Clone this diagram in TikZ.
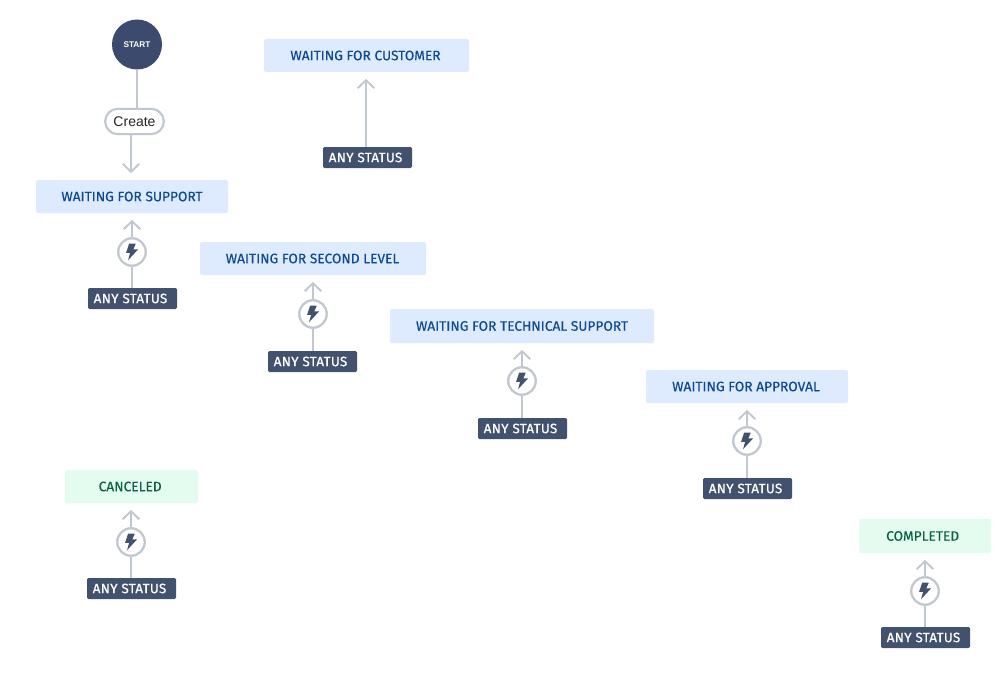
\documentclass[tikz,border=0pt]{standalone}
\usepackage{fontspec}
\setmainfont{Fira Sans}
\newfontfamily\arialfont{Liberation Sans}
\newfontfamily\statusfont[FakeBold=0.25]{Fira Sans}
\newfontfamily\anyfont[FakeBold=0.7,LetterSpace=2]{Fira Sans}
\usetikzlibrary{arrows.meta}
\definecolor{navy}{HTML}{42526E}
\definecolor{startnavy}{HTML}{3B4A6D}
\definecolor{linegrey}{HTML}{C1C7D0}
\definecolor{bluebg}{HTML}{DEEBFF}
\definecolor{bluetx}{HTML}{0E4A94}
\definecolor{greenbg}{HTML}{E3FCEF}
\definecolor{greentx}{HTML}{0B6145}
\tikzset{
  x=0.75pt,y=-0.75pt,
  statusbox/.style={rectangle,rounded corners=1.2pt,inner sep=0pt,font=\statusfont\fontsize{10.3pt}{12pt}\selectfont},
  bluebox/.style={statusbox,fill=bluebg,text=bluetx},
  greenbox/.style={statusbox,fill=greenbg,text=greentx},
  anybox/.style={rectangle,rounded corners=1pt,fill=navy,text=white,inner sep=0pt,minimum width=66.75pt,minimum height=15.75pt,font=\anyfont\fontsize{10.1pt}{12pt}\selectfont},
  conn/.style={draw=linegrey,line width=1.6pt},
  arrowconn/.style={conn,-{Straight Barb[length=6pt,width=12.5pt,line width=1.4pt]},shorten >=5pt},
  boltnode/.style={circle,draw=linegrey,line width=1.6pt,fill=white,minimum size=20.5pt,inner sep=0pt,
    path picture={
      \fill[navy] ([shift={(2.8pt,6.2pt)}]path picture bounding box.center)
        -- ([shift={(-2.2pt,6.2pt)}]path picture bounding box.center)
        -- ([shift={(-4.4pt,-0.6pt)}]path picture bounding box.center)
        -- ([shift={(-1.4pt,-0.6pt)}]path picture bounding box.center)
        -- ([shift={(-3pt,-6.2pt)}]path picture bounding box.center)
        -- ([shift={(4.6pt,2pt)}]path picture bounding box.center)
        -- ([shift={(1pt,2pt)}]path picture bounding box.center) -- cycle;
    }},
}
\begin{document}
\begin{tikzpicture}
\useasboundingbox[fill=white] (0,0) rectangle (999,674);
% statuses
\node[bluebox,minimum width=153.75pt,minimum height=24.75pt] (wfc) at (366.5,55.5) {WAITING FOR CUSTOMER\kern1.5pt};
\node[bluebox,minimum width=144pt,minimum height=24.75pt] (wfs) at (132,196.5) {WAITING FOR SUPPORT};
\node[bluebox,minimum width=169.5pt,minimum height=24.75pt] (wfl) at (313,258.5) {WAITING FOR SECOND LEVEL\kern.7pt};
\node[bluebox,minimum width=198pt,minimum height=25.5pt] (wft) at (522,326) {WAITING FOR TECHNICAL SUPPORT};
\node[bluebox,minimum width=151.5pt,minimum height=24.75pt] (wfa) at (747,386.5) {WAITING FOR APPROVAL\kern1.5pt};
\node[greenbox,minimum width=99.75pt,minimum height=24.75pt] (can) at (131.5,486.5) {CANCELED\kern2pt};
\node[greenbox,minimum width=99pt,minimum height=25.5pt] (com) at (925,536) {COMPLETED\kern3.5pt};
% any status
\node[anybox] (a1) at (367.5,157.5) {ANY STATUS\kern3pt};
\node[anybox] (a2) at (132.5,298.5) {ANY STATUS\kern3pt};
\node[anybox] (a3) at (312.5,361.5) {ANY STATUS\kern3pt};
\node[anybox] (a4) at (522.5,428.5) {ANY STATUS\kern3pt};
\node[anybox] (a5) at (747.5,488.5) {ANY STATUS\kern3pt};
\node[anybox] (a6) at (131.5,588.5) {ANY STATUS\kern3pt};
\node[anybox] (a7) at (925.5,637.5) {ANY STATUS\kern3pt};
% bolts
\node[boltnode] (b2) at (132,252) {};
\node[boltnode] (b3) at (313,314) {};
\node[boltnode] (b4) at (522,381) {};
\node[boltnode] (b5) at (747,441) {};
\node[boltnode] (b6) at (131,542) {};
\node[boltnode] (b7) at (925,591) {};
% start
\node[circle,fill=startnavy,text=white,minimum size=37.5pt,inner sep=0pt,font=\arialfont\bfseries\fontsize{6.2pt}{7pt}\selectfont] (start) at (137,44.5) {START};
\node[draw=linegrey,line width=1.6pt,fill=white,rounded corners=9.5pt,minimum width=44pt,minimum height=19pt,inner sep=0pt,font=\arialfont\fontsize{10.5pt}{12pt}\selectfont,text=black!85] (create) at (134.5,121.5) {Create};
% connectors
\draw[conn] (start) -- (start|-create.north);
\coordinate (createlow) at (131,135);
\draw[arrowconn] (createlow) -- (createlow|-wfs.north);
\coordinate (a1top) at (366,147);
\draw[arrowconn] (a1top) -- (a1top|-wfc.south);
\foreach \a/\b/\s in {a2/b2/wfs,a3/b3/wfl,a4/b4/wft,a5/b5/wfa,a6/b6/can,a7/b7/com}{
  \draw[conn] (\b|-\a.north) -- (\b);
  \draw[arrowconn] (\b) -- (\b|-\s.south);
}
\foreach \b in {b2,b3,b4,b5,b6,b7}{
  \node[boltnode] at (\b) {};
}
\end{tikzpicture}
\end{document}
